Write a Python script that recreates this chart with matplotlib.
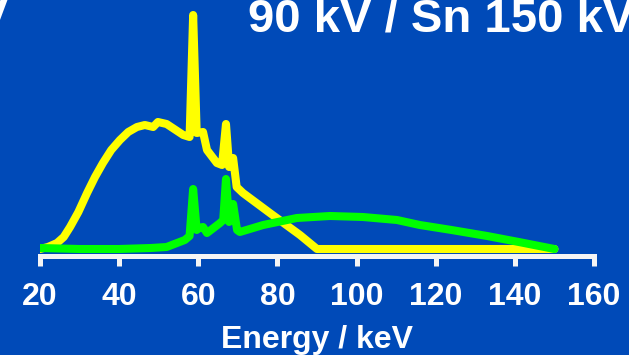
import matplotlib
matplotlib.use('Agg')
import matplotlib.pyplot as plt

# spectra (arbitrary units)
yellow_E = [20, 22, 24.3, 26, 27.6, 29.7, 31.9, 33.9, 35.9, 38, 40.2, 42.3, 44.5, 46.5, 48.6,
            49.8, 52, 56.2, 57.8, 58.7, 59.6, 61.2, 62.2, 64.7, 66.0, 67.0, 67.8, 68.8, 69.7,
            71.3, 78.1, 85.7, 90, 150]
yellow_I = [0, 2, 6, 12, 22, 37, 56, 72, 86, 99, 109, 117, 122, 124, 122,
            127, 125, 114, 112, 234, 116, 117, 99, 86, 84, 125, 82, 91, 62,
            56, 36, 14, 0, 0]

green_E = [20, 30, 40, 48, 52, 56.6, 57.8, 58.7, 59.6, 60.2, 61.2, 62.2, 65.5, 66.3, 67.0,
           67.8, 68.8, 69.8, 70.5, 76.4, 84.9, 93.3, 101.6, 110.2, 116, 124, 133, 141, 150]
green_I = [1, 0, 0, 1, 2, 9, 13, 60, 19, 21, 22, 16, 26, 29, 70,
           27, 45, 19, 17, 24, 31, 33, 32, 29, 24, 19, 13, 7, 0]

x_ticks = [20, 40, 60, 80, 100, 120, 140, 160]

bg = '#004AB8'
fig = plt.figure(figsize=(6.29, 3.55), dpi=100, facecolor=bg)
ax = fig.add_axes([40 / 629, 99 / 355, 554 / 629, 256 / 355])
ax.set_facecolor(bg)

ax.plot(yellow_E, yellow_I, color='#FFFF00', lw=5.8, solid_capstyle='round', solid_joinstyle='round')
ax.plot(green_E, green_I, color='#00FF00', lw=5.8, solid_capstyle='round', solid_joinstyle='round')

ax.set_xlim(20, 160)
ax.set_ylim(-7, 249)
ax.set_xticks(x_ticks)
ax.set_yticks([])
for s in ['top', 'right', 'left']:
    ax.spines[s].set_visible(False)
ax.spines['bottom'].set_color('#F5F5F5')
ax.spines['bottom'].set_linewidth(3.6)
ax.tick_params(axis='x', colors='#F5F5F5', length=7, width=3.6, pad=12, labelsize=23)
for lab in ax.get_xticklabels():
    lab.set_color('white')
    lab.set_fontweight('bold')
    lab.set_family('Liberation Sans')

ax.set_xlabel('Energy / keV', color='white', fontsize=23, fontweight='bold',
              family='Liberation Sans', labelpad=9)

fig.text(248 / 629, 1 - 32 / 355, '90 kV / Sn 150 kV', color='white', fontsize=34,
         fontweight='bold', family='Liberation Sans', va='baseline', ha='left')
fig.text(9 / 629, 1 - 32 / 355, 'kV', color='white', fontsize=34,
         fontweight='bold', family='Liberation Sans', va='baseline', ha='right')

fig.savefig('out.png', dpi=100, facecolor=bg)
